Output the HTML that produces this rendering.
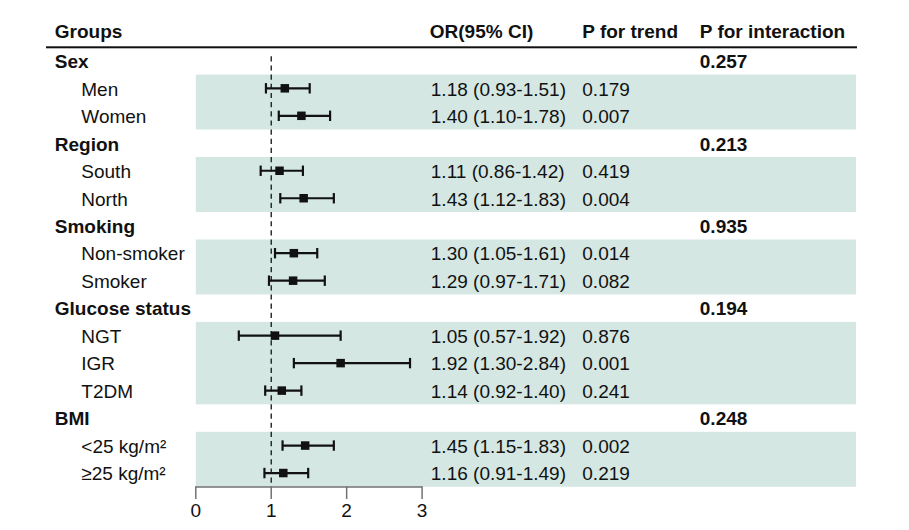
<!DOCTYPE html>
<html><head><meta charset="utf-8"><style>
html,body{margin:0;padding:0;background:#fff;}
body{width:909px;height:530px;overflow:hidden;}
svg{display:block;}
text{font-family:"Liberation Sans",sans-serif;font-size:19.0px;fill:#111;}
.b{font-weight:bold;}
</style></head><body>
<svg width="909" height="530" viewBox="0 0 909 530">

<rect x="195.8" y="74.58" width="660.2" height="54.96" fill="#d5e7e3"/>
<rect x="195.8" y="157.02" width="660.2" height="54.96" fill="#d5e7e3"/>
<rect x="195.8" y="239.46" width="660.2" height="54.96" fill="#d5e7e3"/>
<rect x="195.8" y="321.90" width="660.2" height="82.44" fill="#d5e7e3"/>
<rect x="195.8" y="431.82" width="660.2" height="54.96" fill="#d5e7e3"/>
<text class="b" x="54.8" y="38.3">Groups</text>
<text class="b" x="429.8" y="38.3">OR(95% CI)</text>
<text class="b" x="582.3" y="38.3">P for trend</text>
<text class="b" x="699.8" y="38.3">P for interaction</text>
<rect x="46" y="46.3" width="811" height="2" fill="#111"/>
<line x1="271.23" y1="56.26" x2="271.23" y2="483.28" stroke="#1a1a1a" stroke-width="1.35" stroke-dasharray="5.2 3.960"/>
<text class="b" x="54.8" y="68.10">Sex</text>
<text class="b" x="699.8" y="68.10">0.257</text>
<text x="81.3" y="95.58">Men</text>
<text x="430.8" y="95.58">1.18 (0.93-1.51)</text>
<text x="582.3" y="95.58">0.179</text>
<line x1="265.95" y1="88.32" x2="309.70" y2="88.32" stroke="#111" stroke-width="2.2"/>
<line x1="265.95" y1="83.12" x2="265.95" y2="93.52" stroke="#111" stroke-width="2.2"/>
<line x1="309.70" y1="83.12" x2="309.70" y2="93.52" stroke="#111" stroke-width="2.2"/>
<rect x="280.56" y="84.07" width="8.5" height="8.5" fill="#111"/>
<text x="81.3" y="123.06">Women</text>
<text x="430.8" y="123.06">1.40 (1.10-1.78)</text>
<text x="582.3" y="123.06">0.007</text>
<line x1="278.77" y1="115.80" x2="330.07" y2="115.80" stroke="#111" stroke-width="2.2"/>
<line x1="278.77" y1="110.60" x2="278.77" y2="121.00" stroke="#111" stroke-width="2.2"/>
<line x1="330.07" y1="110.60" x2="330.07" y2="121.00" stroke="#111" stroke-width="2.2"/>
<rect x="297.15" y="111.55" width="8.5" height="8.5" fill="#111"/>
<text class="b" x="54.8" y="150.54">Region</text>
<text class="b" x="699.8" y="150.54">0.213</text>
<text x="81.3" y="178.02">South</text>
<text x="430.8" y="178.02">1.11 (0.86-1.42)</text>
<text x="582.3" y="178.02">0.419</text>
<line x1="260.67" y1="170.76" x2="302.91" y2="170.76" stroke="#111" stroke-width="2.2"/>
<line x1="260.67" y1="165.56" x2="260.67" y2="175.96" stroke="#111" stroke-width="2.2"/>
<line x1="302.91" y1="165.56" x2="302.91" y2="175.96" stroke="#111" stroke-width="2.2"/>
<rect x="275.28" y="166.51" width="8.5" height="8.5" fill="#111"/>
<text x="81.3" y="205.50">North</text>
<text x="430.8" y="205.50">1.43 (1.12-1.83)</text>
<text x="582.3" y="205.50">0.004</text>
<line x1="280.28" y1="198.24" x2="333.84" y2="198.24" stroke="#111" stroke-width="2.2"/>
<line x1="280.28" y1="193.04" x2="280.28" y2="203.44" stroke="#111" stroke-width="2.2"/>
<line x1="333.84" y1="193.04" x2="333.84" y2="203.44" stroke="#111" stroke-width="2.2"/>
<rect x="299.41" y="193.99" width="8.5" height="8.5" fill="#111"/>
<text class="b" x="54.8" y="232.98">Smoking</text>
<text class="b" x="699.8" y="232.98">0.935</text>
<text x="81.3" y="260.46">Non-smoker</text>
<text x="430.8" y="260.46">1.30 (1.05-1.61)</text>
<text x="582.3" y="260.46">0.014</text>
<line x1="275.00" y1="253.20" x2="317.24" y2="253.20" stroke="#111" stroke-width="2.2"/>
<line x1="275.00" y1="248.00" x2="275.00" y2="258.40" stroke="#111" stroke-width="2.2"/>
<line x1="317.24" y1="248.00" x2="317.24" y2="258.40" stroke="#111" stroke-width="2.2"/>
<rect x="289.61" y="248.95" width="8.5" height="8.5" fill="#111"/>
<text x="81.3" y="287.94">Smoker</text>
<text x="430.8" y="287.94">1.29 (0.97-1.71)</text>
<text x="582.3" y="287.94">0.082</text>
<line x1="268.97" y1="280.68" x2="324.79" y2="280.68" stroke="#111" stroke-width="2.2"/>
<line x1="268.97" y1="275.48" x2="268.97" y2="285.88" stroke="#111" stroke-width="2.2"/>
<line x1="324.79" y1="275.48" x2="324.79" y2="285.88" stroke="#111" stroke-width="2.2"/>
<rect x="288.85" y="276.43" width="8.5" height="8.5" fill="#111"/>
<text class="b" x="54.8" y="315.42">Glucose status</text>
<text class="b" x="699.8" y="315.42">0.194</text>
<text x="81.3" y="342.90">NGT</text>
<text x="430.8" y="342.90">1.05 (0.57-1.92)</text>
<text x="582.3" y="342.90">0.876</text>
<line x1="238.80" y1="335.64" x2="340.63" y2="335.64" stroke="#111" stroke-width="2.2"/>
<line x1="238.80" y1="330.44" x2="238.80" y2="340.84" stroke="#111" stroke-width="2.2"/>
<line x1="340.63" y1="330.44" x2="340.63" y2="340.84" stroke="#111" stroke-width="2.2"/>
<rect x="270.75" y="331.39" width="8.5" height="8.5" fill="#111"/>
<text x="81.3" y="370.38">IGR</text>
<text x="430.8" y="370.38">1.92 (1.30-2.84)</text>
<text x="582.3" y="370.38">0.001</text>
<line x1="293.86" y1="363.12" x2="410.02" y2="363.12" stroke="#111" stroke-width="2.2"/>
<line x1="293.86" y1="357.92" x2="293.86" y2="368.32" stroke="#111" stroke-width="2.2"/>
<line x1="410.02" y1="357.92" x2="410.02" y2="368.32" stroke="#111" stroke-width="2.2"/>
<rect x="336.38" y="358.87" width="8.5" height="8.5" fill="#111"/>
<text x="81.3" y="397.86">T2DM</text>
<text x="430.8" y="397.86">1.14 (0.92-1.40)</text>
<text x="582.3" y="397.86">0.241</text>
<line x1="265.20" y1="390.60" x2="301.40" y2="390.60" stroke="#111" stroke-width="2.2"/>
<line x1="265.20" y1="385.40" x2="265.20" y2="395.80" stroke="#111" stroke-width="2.2"/>
<line x1="301.40" y1="385.40" x2="301.40" y2="395.80" stroke="#111" stroke-width="2.2"/>
<rect x="277.54" y="386.35" width="8.5" height="8.5" fill="#111"/>
<text class="b" x="54.8" y="425.34">BMI</text>
<text class="b" x="699.8" y="425.34">0.248</text>
<text x="81.3" y="452.82">&lt;25 kg/m²</text>
<text x="430.8" y="452.82">1.45 (1.15-1.83)</text>
<text x="582.3" y="452.82">0.002</text>
<line x1="282.54" y1="445.56" x2="333.84" y2="445.56" stroke="#111" stroke-width="2.2"/>
<line x1="282.54" y1="440.36" x2="282.54" y2="450.76" stroke="#111" stroke-width="2.2"/>
<line x1="333.84" y1="440.36" x2="333.84" y2="450.76" stroke="#111" stroke-width="2.2"/>
<rect x="300.92" y="441.31" width="8.5" height="8.5" fill="#111"/>
<text x="81.3" y="480.30">≥25 kg/m²</text>
<text x="430.8" y="480.30">1.16 (0.91-1.49)</text>
<text x="582.3" y="480.30">0.219</text>
<line x1="264.44" y1="473.04" x2="308.19" y2="473.04" stroke="#111" stroke-width="2.2"/>
<line x1="264.44" y1="467.84" x2="264.44" y2="478.24" stroke="#111" stroke-width="2.2"/>
<line x1="308.19" y1="467.84" x2="308.19" y2="478.24" stroke="#111" stroke-width="2.2"/>
<rect x="279.05" y="468.79" width="8.5" height="8.5" fill="#111"/>
<line x1="195.80" y1="487.00" x2="422.09" y2="487.00" stroke="#727272" stroke-width="1.5"/>
<line x1="195.80" y1="486.30" x2="195.80" y2="499.00" stroke="#727272" stroke-width="1.5"/>
<text x="195.80" y="517" text-anchor="middle">0</text>
<line x1="271.23" y1="486.30" x2="271.23" y2="499.00" stroke="#727272" stroke-width="1.5"/>
<text x="271.23" y="517" text-anchor="middle">1</text>
<line x1="346.66" y1="486.30" x2="346.66" y2="499.00" stroke="#727272" stroke-width="1.5"/>
<text x="346.66" y="517" text-anchor="middle">2</text>
<line x1="422.09" y1="486.30" x2="422.09" y2="499.00" stroke="#727272" stroke-width="1.5"/>
<text x="422.09" y="517" text-anchor="middle">3</text>
</svg></body></html>
